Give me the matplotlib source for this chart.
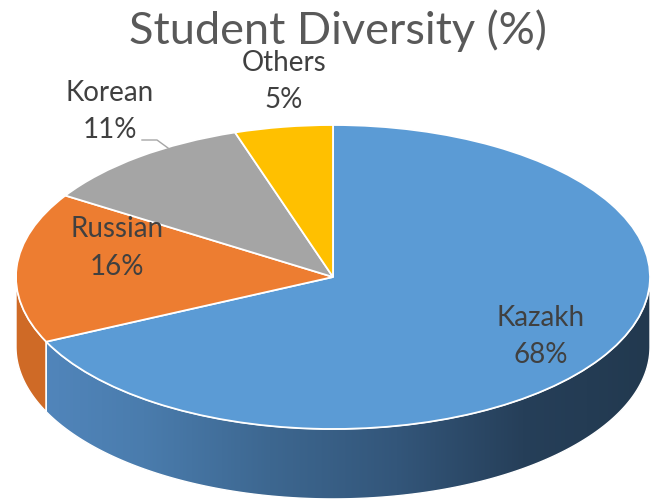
import numpy as np
import matplotlib
matplotlib.use('Agg')
import matplotlib.pyplot as plt
from matplotlib.colors import LinearSegmentedColormap
from matplotlib.patches import Polygon

# ---- data ----
title = 'Student Diversity (%)'
categories = ['Kazakh', 'Russian', 'Korean', 'Others']
values = [68, 16, 11, 5]

# ---- style ----
top_colors = ['#5b9bd5', '#ed7d31', '#a5a5a5', '#ffc000']
side_solid = ['#3f6c98', '#cf6a26', '#7f7f7f', '#c79500']
label_px = [(541, 318, 355), (117, 229, 267), (110, 93, 130), (284, 63, 100)]

plt.rcParams['font.family'] = ['Lato', 'DejaVu Sans']

W, H = 652, 503
fig = plt.figure(figsize=(W / 100, H / 100), dpi=100)
ax = fig.add_axes([0, 0, 1, 1])

cx, cy, rx, ry = 333, 277, 317, 152
depth = 0.46


def px(x, y):
    return (x - cx) / rx, (cy - y) / ry


wedges, _ = ax.pie(values, colors=top_colors, startangle=90, counterclock=False,
                   radius=1.0, center=(0, 0),
                   wedgeprops=dict(edgecolor='white', linewidth=1.3, zorder=5))

side_cmap = LinearSegmentedColormap.from_list(
    'side', ['#5388bf', '#4a7cad', '#3d6790', '#33567a', '#263f59', '#22394f'])

for i, w in enumerate(wedges):
    a = np.radians(np.linspace(w.theta1, w.theta2, 400))
    keep = np.sin(a) <= 1e-9
    if keep.sum() < 2:
        continue
    a = a[keep]
    top = np.column_stack([np.cos(a), np.sin(a)])
    bot = np.column_stack([np.cos(a), np.sin(a) - depth])[::-1]
    pts = np.vstack([top, bot])
    if i == 0:
        poly = Polygon(pts, closed=True, facecolor='none', edgecolor='none', zorder=2)
        ax.add_patch(poly)
        grad = np.linspace(0, 1, 256).reshape(1, -1)
        im = ax.imshow(grad, cmap=side_cmap, aspect='auto', zorder=2,
                       extent=(-1.0, 1.0, -1.0 - depth, 0.1), interpolation='bilinear')
        im.set_clip_path(poly)
        ax.add_patch(Polygon(pts, closed=True, facecolor='none', edgecolor='white',
                             linewidth=1.0, zorder=3))
    else:
        ax.add_patch(Polygon(pts, closed=True, facecolor=side_solid[i], edgecolor='white',
                             linewidth=1.0, zorder=2))

# labels
for (cat, val), (lx, ly1, ly2) in zip(zip(categories, values), label_px):
    ax.text(*px(lx, ly1), cat, ha='center', va='center', fontsize=20,
            color='#404040', zorder=10)
    ax.text(*px(lx, ly2), f'{val}%', ha='center', va='center', fontsize=20,
            color='#404040', zorder=10)

# leader line for Korean
lx, ly = zip(px(142, 140), px(157, 140), px(168, 148))
ax.plot(lx, ly, color='#a6a6a6', linewidth=1.0, zorder=10)

fig.text(338 / W, 1 - 31 / H, title, ha='center', va='center', fontsize=32.5,
         color='#595959')

ax.set_xlim(-cx / rx, (W - cx) / rx)
ax.set_ylim(-(H - cy) / ry, cy / ry)
ax.set_aspect('auto')
ax.axis('off')

fig.savefig('out.png', dpi=100, facecolor='white')
